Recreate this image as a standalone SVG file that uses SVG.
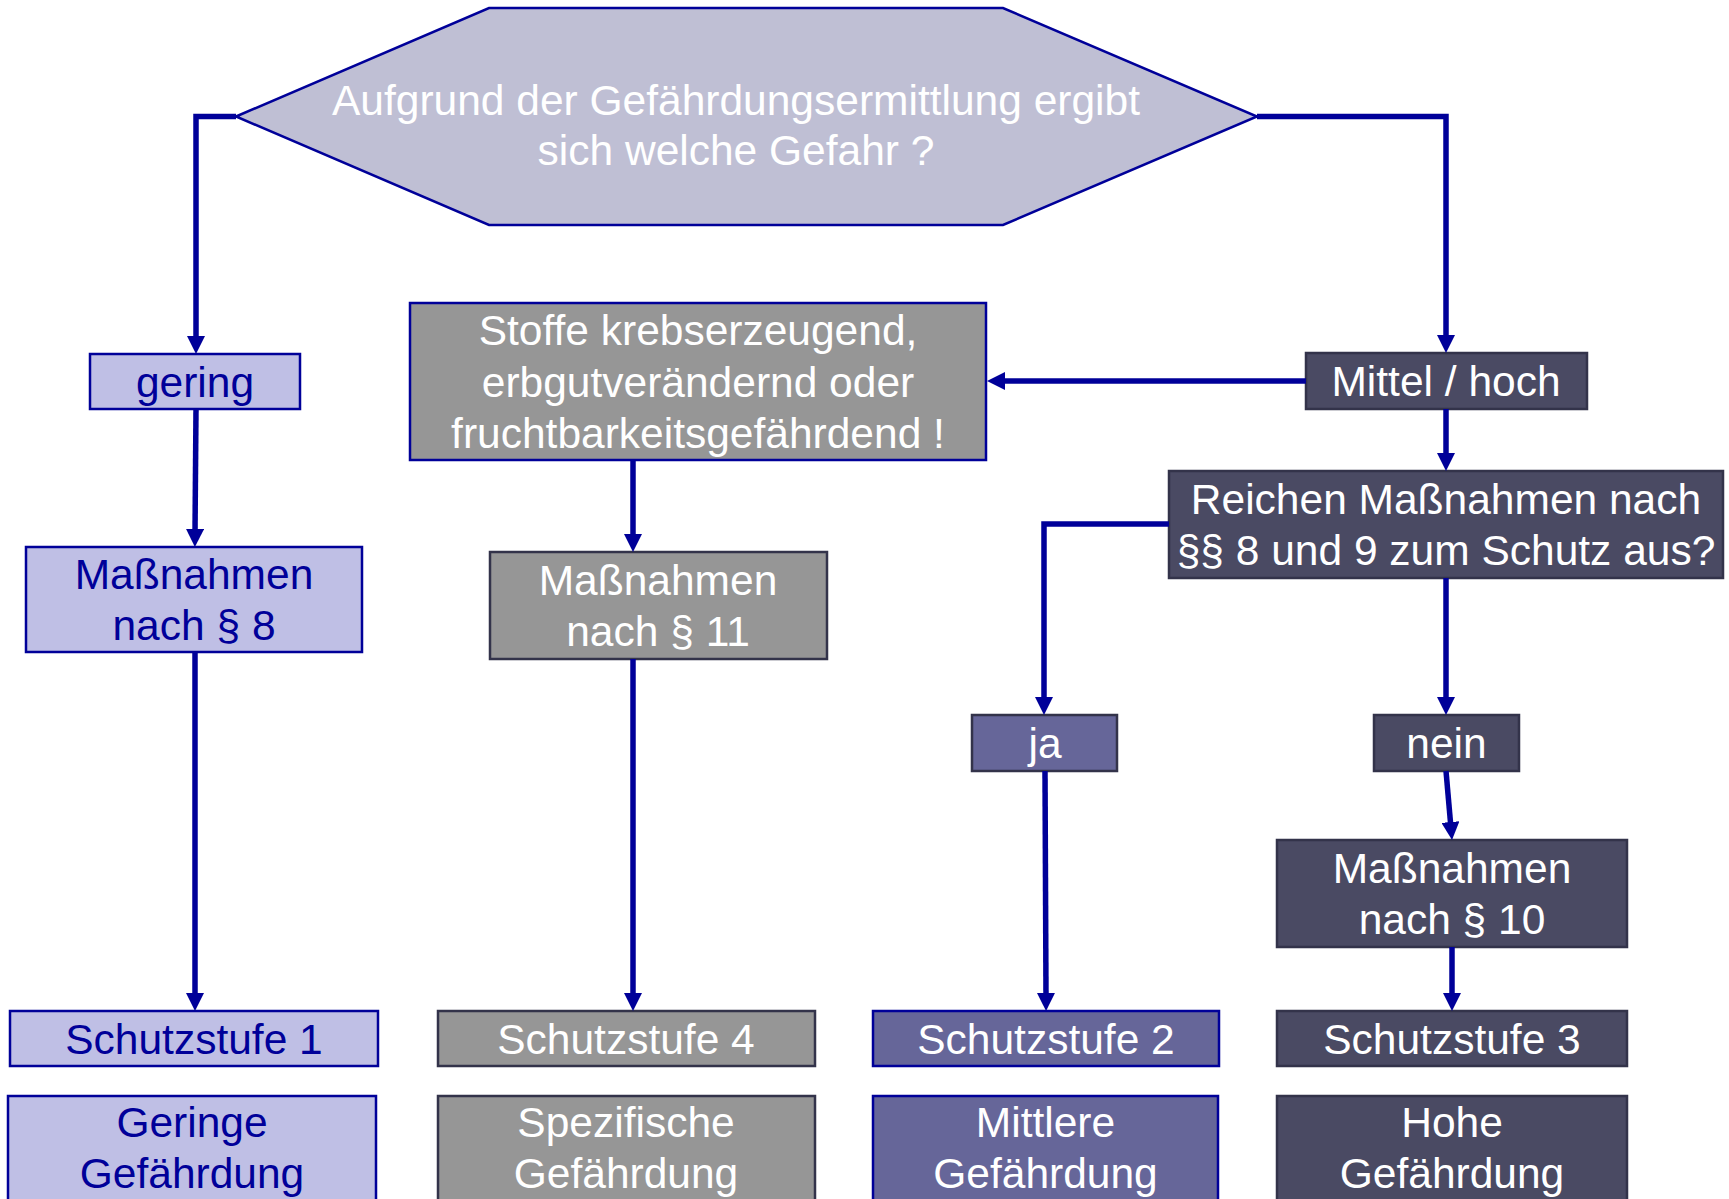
<svg xmlns="http://www.w3.org/2000/svg" width="1729" height="1199" viewBox="0 0 1729 1199">
<style>
text{font-family:"Liberation Sans",Arial,sans-serif;font-size:42.5px;text-anchor:middle}
.wt{fill:#ffffff}
.bt{fill:#000099}
.hex{fill:#BFBFD4;stroke:#000099;stroke-width:2.5}
.light{fill:#BFBFE5;stroke:#000099;stroke-width:2.5}
.grey{fill:#969696;stroke:#33334A;stroke-width:2.5}
.greyb{fill:#969696;stroke:#000099;stroke-width:2.5}
.purple{fill:#666699;stroke:#33334A;stroke-width:2.5}
.purpleb{fill:#666699;stroke:#000099;stroke-width:2.5}
.dark{fill:#4A4A63;stroke:#33334A;stroke-width:2.5}
.conn path{fill:none;stroke:#000099;stroke-width:5.5;stroke-linejoin:miter;marker-end:url(#arr)}
</style>
<defs>
<marker id="arr" markerUnits="userSpaceOnUse" markerWidth="18" markerHeight="18" viewBox="0 0 18 18" refX="4" refY="9" orient="auto">
<path d="M0,0 L18,9 L0,18 z" fill="#000099"/>
</marker>
</defs>
<rect width="1729" height="1199" fill="#ffffff"/>

<g id="start">
<polygon class="hex" points="236,116.5 489,8 1003,8 1257,116.5 1003,225 489,225"/>
<text class="wt" x="736" y="115">Aufgrund der Gefährdungsermittlung ergibt</text>
<text class="wt" x="736" y="165">sich welche Gefahr ?</text>
</g>

<g id="gering">
<rect class="light" x="90" y="354" width="210" height="55"/>
<text class="bt" x="195" y="396.5">gering</text>
</g>
<g id="massnahmen8">
<rect class="light" x="26" y="547" width="336" height="105"/>
<text class="bt" x="194" y="589">Maßnahmen</text>
<text class="bt" x="194" y="640">nach § 8</text>
</g>
<g id="schutzstufe1">
<rect class="light" x="10" y="1011" width="368" height="55"/>
<text class="bt" x="194" y="1053.5">Schutzstufe 1</text>
</g>
<g id="geringe">
<rect class="light" x="8" y="1096" width="368" height="120"/>
<text class="bt" x="192" y="1137">Geringe</text>
<text class="bt" x="192" y="1188">Gefährdung</text>
</g>

<g id="stoffe">
<rect class="greyb" x="410" y="303" width="576" height="157"/>
<text class="wt" x="698" y="345">Stoffe krebserzeugend,</text>
<text class="wt" x="698" y="396.5">erbgutverändernd oder</text>
<text class="wt" x="698" y="448">fruchtbarkeitsgefährdend !</text>
</g>
<g id="massnahmen11">
<rect class="grey" x="490" y="552" width="337" height="107"/>
<text class="wt" x="658" y="595">Maßnahmen</text>
<text class="wt" x="658" y="646">nach § 11</text>
</g>
<g id="schutzstufe4">
<rect class="grey" x="438" y="1011" width="377" height="55"/>
<text class="wt" x="626" y="1053.5">Schutzstufe 4</text>
</g>
<g id="spezifische">
<rect class="grey" x="438" y="1096" width="377" height="120"/>
<text class="wt" x="626" y="1137">Spezifische</text>
<text class="wt" x="626" y="1188">Gefährdung</text>
</g>

<g id="mittelhoch">
<rect class="dark" x="1306" y="353" width="281" height="56"/>
<text class="wt" x="1446" y="396">Mittel / hoch</text>
</g>
<g id="reichen">
<rect class="dark" x="1169" y="471" width="554" height="107"/>
<text class="wt" x="1446" y="514">Reichen Maßnahmen nach</text>
<text class="wt" x="1446" y="565">§§ 8 und 9 zum Schutz aus?</text>
</g>
<g id="ja">
<rect class="purple" x="972" y="715" width="145" height="56"/>
<text class="wt" x="1045" y="758">ja</text>
</g>
<g id="nein">
<rect class="dark" x="1374" y="715" width="145" height="56"/>
<text class="wt" x="1446.5" y="758">nein</text>
</g>
<g id="massnahmen10">
<rect class="dark" x="1277" y="840" width="350" height="107"/>
<text class="wt" x="1452" y="883">Maßnahmen</text>
<text class="wt" x="1452" y="934">nach § 10</text>
</g>
<g id="schutzstufe2">
<rect class="purpleb" x="873" y="1011" width="346" height="55"/>
<text class="wt" x="1046" y="1053.5">Schutzstufe 2</text>
</g>
<g id="mittlere">
<rect class="purpleb" x="873" y="1096" width="345" height="120"/>
<text class="wt" x="1045.5" y="1137">Mittlere</text>
<text class="wt" x="1045.5" y="1188">Gefährdung</text>
</g>
<g id="schutzstufe3">
<rect class="dark" x="1277" y="1011" width="350" height="55"/>
<text class="wt" x="1452" y="1053.5">Schutzstufe 3</text>
</g>
<g id="hohe">
<rect class="dark" x="1277" y="1096" width="350" height="120"/>
<text class="wt" x="1452" y="1137">Hohe</text>
<text class="wt" x="1452" y="1188">Gefährdung</text>
</g>

<g id="connectors" class="conn">
<path d="M236,116.5 H196 V340"/>
<path d="M196,409 L195,533"/>
<path d="M195,652 V997"/>
<path d="M1257,116.5 H1446 V339"/>
<path d="M1306,381 H1001"/>
<path d="M1446,409 V457"/>
<path d="M1169,524 H1044 V701"/>
<path d="M1446,578 V701"/>
<path d="M633,460 V538"/>
<path d="M633,659 V997"/>
<path d="M1045,771 L1046,997"/>
<path d="M1446,771 L1450.8,826"/>
<path d="M1452,947 V997"/>
</g>
</svg>
